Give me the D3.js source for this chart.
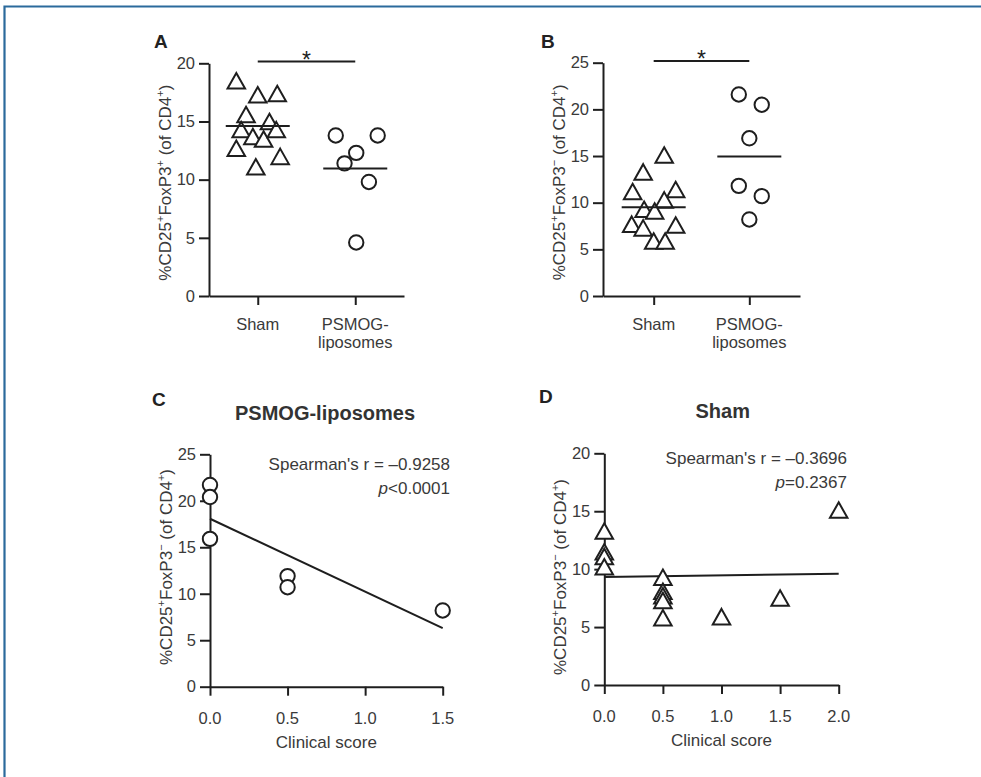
<!DOCTYPE html>
<html><head><meta charset="utf-8">
<script src="https://cdn.jsdelivr.net/npm/d3@7"></script>
<style>
body{margin:0;background:#fff}
svg text{font-family:"Liberation Sans",Arial,Helvetica,sans-serif;}
</style>
</head><body>
<svg id="c" width="981" height="777"></svg>
<script>
// ---------------- DATA ----------------
const categories = ["Sham", "PSMOG-liposomes"];
const categoryLines = [["Sham"], ["PSMOG-", "liposomes"]];

// Panel A: %CD25+FoxP3+ (of CD4+)
const aSham  = [18.5, 17.3, 17.4, 15.6, 15.0, 14.3, 13.7, 13.5, 14.3, 12.7, 12.0, 11.1];
const aShamJitter = [-0.22, 0.0, 0.20, -0.12, 0.12, -0.17, -0.05, 0.06, 0.19, -0.22, 0.23, -0.02];
const aPsmog = [13.8, 13.8, 12.3, 11.4, 9.8, 4.6];
const aPsmogJitter = [-0.20, 0.23, 0.01, -0.11, 0.14, 0.01];
const yTicksA = [0, 5, 10, 15, 20];

// Panel B: %CD25+FoxP3- (of CD4+)
const bSham  = [15.1, 13.3, 11.2, 11.4, 10.3, 9.3, 9.1, 7.7, 7.3, 7.6, 5.9, 5.9];
const bShamJitter = [0.11, -0.11, -0.22, 0.23, 0.11, -0.10, 0.01, -0.23, -0.11, 0.23, 0.0, 0.12];
const bPsmog = [21.6, 20.5, 16.9, 11.8, 10.7, 8.2];
const bPsmogJitter = [-0.11, 0.13, 0.0, -0.11, 0.13, 0.0];
const yTicksB = [0, 5, 10, 15, 20, 25];

// Panel C: PSMOG-liposomes, clinical score vs %CD25+FoxP3-
const cScore = [0, 0, 0, 0.5, 0.5, 1.5];
const cValue = [21.7, 20.4, 15.9, 11.9, 10.7, 8.2];
const xTicksC = [0, 0.5, 1.0, 1.5];
const yTicksC = [0, 5, 10, 15, 20, 25];
const cStats = ["Spearman's r = \u20130.9258", "<0.0001"];

// Panel D: Sham, clinical score vs %CD25+FoxP3-
const dScore = [0, 0, 0, 0, 0.5, 0.5, 0.5, 0.5, 0.5, 1.0, 1.5, 2.0];
const dValue = [13.3, 11.5, 11.1, 10.2, 9.3, 8.1, 7.7, 7.3, 5.8, 5.9, 7.5, 15.1];
const xTicksD = [0, 0.5, 1.0, 1.5, 2.0];
const yTicksD = [0, 5, 10, 15, 20];
const dStats = ["Spearman's r = \u20130.3696", "=0.2367"];

// ---------------- DRAW ----------------
const svg = d3.select("#c");
const INK = "#1e1e1e", TXT = "#3a3a3a";

svg.append("path").attr("d", "M4.5,777 V6.5 H981")
  .attr("fill", "none").attr("stroke", "#2b6a9c").attr("stroke-width", 2.2);

const triPath = (s, h) => `M0,${-h/2} L${s/2},${h/2} L${-s/2},${h/2} Z`;

function drawMarker(g, shape, x, y) {
  if (shape === "tri") {
    g.append("path").attr("d", triPath(17.5, 15.5)).attr("transform", `translate(${x},${y})`)
      .attr("fill", "#fff").attr("stroke", INK).attr("stroke-width", 2).attr("stroke-linejoin", "miter");
  } else {
    g.append("circle").attr("cx", x).attr("cy", y).attr("r", 7.2)
      .attr("fill", "#fff").attr("stroke", INK).attr("stroke-width", 2);
  }
}

function styleAxis(ax) {
  ax.selectAll(".domain").attr("stroke", INK).attr("stroke-width", 2);
  ax.selectAll(".tick line").attr("stroke", INK).attr("stroke-width", 2);
  ax.selectAll(".tick text").attr("fill", TXT).attr("font-size", 16.5);
}

function yLabel(g, x, y, sign2) {
  const t = g.append("text").attr("transform", `translate(${x},${y}) rotate(-90)`)
    .attr("text-anchor", "middle").attr("fill", TXT).attr("font-size", 17);
  t.append("tspan").text("%CD25");
  t.append("tspan").attr("font-size", 11).attr("dy", -7).text("+");
  t.append("tspan").attr("dy", 7).text("FoxP3");
  t.append("tspan").attr("font-size", 11).attr("dy", -7).text(sign2);
  t.append("tspan").attr("dy", 7).text(" (of CD4");
  t.append("tspan").attr("font-size", 11).attr("dy", -7).text("+");
  t.append("tspan").attr("dy", 7).text(")");
}

function panelLetter(g, x, y, s) {
  g.append("text").attr("x", x).attr("y", y).attr("font-size", 19).attr("font-weight", "bold")
    .attr("fill", "#222").text(s);
}

function dotPanel(o) {
  const g = svg.append("g");
  const y = d3.scaleLinear().domain([0, d3.max(o.ticks)]).range([o.y0, o.y1]);
  const x = d3.scalePoint().domain(categories).range([o.xa, o.xb]).padding(o.pad);
  const step = x.step();
  const ya = g.append("g").attr("transform", `translate(${o.xa},0)`)
    .call(d3.axisLeft(y).tickValues(o.ticks).tickSize(10).tickSizeOuter(0).tickPadding(4));
  styleAxis(ya);
  const xa = g.append("g").attr("transform", `translate(0,${o.y0})`)
    .call(d3.axisBottom(x).tickSize(9).tickSizeOuter(0).tickFormat(""));
  styleAxis(xa);
  categories.forEach((c, i) => {
    categoryLines[i].forEach((ln, j) => {
      g.append("text").attr("x", x(c)).attr("y", o.y0 + 34 + j * 17.5)
        .attr("text-anchor", "middle").attr("fill", TXT).attr("font-size", 16.5).text(ln);
    });
  });
  o.groups.forEach((gr, gi) => {
    const cx = x(categories[gi]);
    gr.vals.forEach((v, i) => drawMarker(g, gr.shape, cx + gr.jit[i] * step, y(v)));
    const m = d3.mean(gr.vals);
    g.append("line").attr("x1", cx - 32).attr("x2", cx + 32).attr("y1", y(m)).attr("y2", y(m))
      .attr("stroke", INK).attr("stroke-width", 2);
  });
  // significance bar
  const sy = y(d3.max(o.ticks)) - 1.8;
  g.append("line").attr("x1", x(categories[0])).attr("x2", x(categories[1]))
    .attr("y1", sy).attr("y2", sy).attr("stroke", INK).attr("stroke-width", 2);
  g.append("text").attr("x", (x(categories[0]) + x(categories[1])) / 2).attr("y", sy + 6)
    .attr("text-anchor", "middle").attr("font-size", 23).attr("fill", INK).text("*");
  yLabel(g, o.xa - 38, (o.y0 + o.y1) / 2 + 3, o.sign2);
  panelLetter(g, o.letter[0], o.letter[1], o.letter[2]);
}

dotPanel({xa: 209, xb: 404, pad: 0.5, y0: 296, y1: 63.3, ticks: yTicksA, sign2: "+",
  groups: [{vals: aSham, jit: aShamJitter, shape: "tri"}, {vals: aPsmog, jit: aPsmogJitter, shape: "circ"}],
  letter: [154, 48, "A"]});
dotPanel({xa: 603, xb: 800, pad: 0.53, y0: 296, y1: 62.7, ticks: yTicksB, sign2: "\u2212",
  groups: [{vals: bSham, jit: bShamJitter, shape: "tri"}, {vals: bPsmog, jit: bPsmogJitter, shape: "circ"}],
  letter: [541, 48, "B"]});

function scatterPanel(o) {
  const g = svg.append("g");
  const x = d3.scaleLinear().domain([0, d3.max(o.xticks)]).range([o.xa, o.xb]);
  const y = d3.scaleLinear().domain([0, d3.max(o.yticks)]).range([o.y0, o.y1]);
  const ya = g.append("g").attr("transform", `translate(${o.xa},0)`)
    .call(d3.axisLeft(y).tickValues(o.yticks).tickSize(10).tickSizeOuter(0).tickPadding(4));
  styleAxis(ya);
  const xa = g.append("g").attr("transform", `translate(0,${o.y0})`)
    .call(d3.axisBottom(x).tickValues(o.xticks).tickSize(9).tickSizeOuter(0).tickFormat(""));
  styleAxis(xa);
  o.xticks.forEach(t => g.append("text").attr("x", x(t)).attr("y", o.y0 + 37)
    .attr("text-anchor", "middle").attr("fill", TXT).attr("font-size", 16.5).text(d3.format(".1f")(t)));
  g.append("text").attr("x", (o.xa + o.xb) / 2).attr("y", o.y0 + 61).attr("text-anchor", "middle")
    .attr("fill", TXT).attr("font-size", 17).text("Clinical score");
  // regression (least squares)
  const mx = d3.mean(o.xs), my = d3.mean(o.ys);
  let sxy = 0, sxx = 0;
  o.xs.forEach((v, i) => { sxy += (v - mx) * (o.ys[i] - my); sxx += (v - mx) * (v - mx); });
  const b = sxy / sxx, a = my - b * mx;
  const x2 = d3.max(o.xticks);
  g.append("line").attr("x1", x(0)).attr("y1", y(a)).attr("x2", x(x2)).attr("y2", y(a + b * x2))
    .attr("stroke", INK).attr("stroke-width", 2);
  o.xs.forEach((v, i) => drawMarker(g, o.shape, x(v), y(o.ys[i])));
  // title
  g.append("text").attr("x", o.title[1]).attr("y", o.title[2]).attr("text-anchor", "middle")
    .attr("font-size", o.title[3]).attr("font-weight", "bold").attr("fill", "#333").text(o.title[0]);
  // stats
  g.append("text").attr("x", o.statX).attr("y", o.statY).attr("text-anchor", "end")
    .attr("font-size", 17).attr("fill", TXT).text(o.stats[0]);
  const p = g.append("text").attr("x", o.statX).attr("y", o.statY + 24).attr("text-anchor", "end")
    .attr("font-size", 17).attr("fill", TXT);
  p.append("tspan").attr("font-style", "italic").text("p");
  p.append("tspan").text(o.stats[1]);
  yLabel(g, o.xa - 38, o.labY, "\u2212");
  panelLetter(g, o.letter[0], o.letter[1], o.letter[2]);
}

scatterPanel({xa: 210, xb: 442.7, y0: 686.7, y1: 454.3, xticks: xTicksC, yticks: yTicksC,
  xs: cScore, ys: cValue, shape: "circ", title: ["PSMOG-liposomes", 325, 420, 20],
  stats: cStats, statX: 450, statY: 470, labY: 567, letter: [152, 406, "C"]});
scatterPanel({xa: 604.3, xb: 838.7, y0: 685, y1: 453.3, xticks: xTicksD, yticks: yTicksD,
  xs: dScore, ys: dValue, shape: "tri", title: ["Sham", 722.7, 418, 20],
  stats: dStats, statX: 847, statY: 464, labY: 577, letter: [539, 403, "D"]});
</script>
</body></html>
